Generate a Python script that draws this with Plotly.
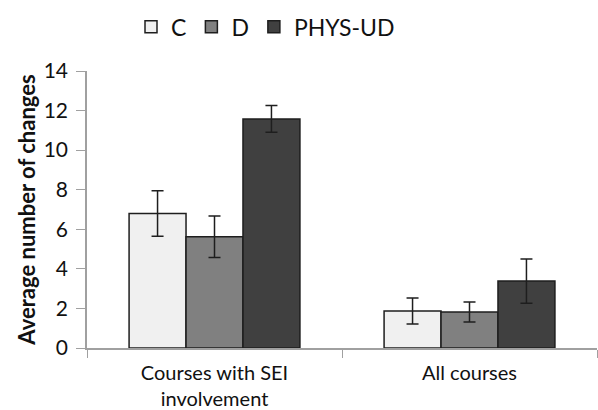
import plotly.graph_objects as go

categories = ["Courses with SEI<br>involvement", "All courses"]
series_names = ["C", "D", "PHYS-UD"]
c_values = [6.8, 1.87]
d_values = [5.62, 1.82]
phys_values = [11.58, 3.38]
c_errors = [1.15, 0.66]
d_errors = [1.05, 0.5]
phys_errors = [0.68, 1.12]
y_ticks = [0, 2, 4, 6, 8, 10, 12, 14]

fills = ["#f0f0f0", "#808080", "#404040"]
font_family = "Lato, 'Open Sans', sans-serif"

fig = go.Figure()
for name, vals, errs, color in zip(series_names,
                                   [c_values, d_values, phys_values],
                                   [c_errors, d_errors, phys_errors],
                                   fills):
    fig.add_trace(go.Bar(
        name=name, x=categories, y=vals,
        marker=dict(color=color, line=dict(color="#1e1e1e", width=1.5)),
        error_y=dict(type="data", array=errs, visible=True,
                     color="#1e1e1e", thickness=1.5, width=6),
    ))

fig.update_layout(
    width=598, height=410,
    margin=dict(l=87, r=1, t=71, b=62, autoexpand=False),
    paper_bgcolor="white", plot_bgcolor="white",
    barmode="group", bargap=0.33, bargroupgap=0,
    font=dict(family=font_family, color="#111111"),
    showlegend=True,
    legend=dict(orientation="h", x=0.35, xanchor="center", y=1.16, yanchor="middle",
                font=dict(size=23, family=font_family), itemwidth=30,
                traceorder="normal"),
    xaxis=dict(
        type="category", tickson="boundaries", ticks="outside", ticklen=8,
        tickcolor="#a0a0a0", showline=True, linecolor="#a0a0a0", linewidth=1.5,
        tickfont=dict(size=20, family=font_family), showgrid=False,
        ticklabelstandoff=6,
    ),
    yaxis=dict(
        range=[0, 14], tickvals=y_ticks, ticks="outside", ticklen=9,
        tickcolor="#a0a0a0", showline=True, linecolor="#a0a0a0", linewidth=1.5,
        showgrid=False, zeroline=False,
        tickfont=dict(size=21, family=font_family),
        ticklabelstandoff=4,
        title=dict(text="<b>Average number of changes</b>",
                   font=dict(size=22, family=font_family), standoff=2),
    ),
)

fig.write_html("out.html")
